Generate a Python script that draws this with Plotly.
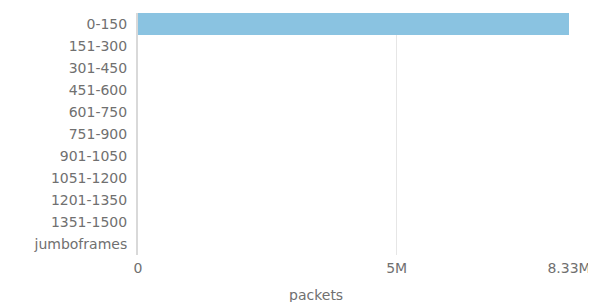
import plotly.graph_objects as go

categories = ["0-150", "151-300", "301-450", "451-600", "601-750", "751-900",
              "901-1050", "1051-1200", "1201-1350", "1351-1500", "jumboframes"]
packets = [8330000, 0, 0, 0, 0, 0, 0, 0, 0, 0, 0]
x_tick_vals = [0, 5000000, 8330000]
x_tick_text = ["0", "5M", "8.33M"]

FONT = "DejaVu Sans"
COL = "#707070"

fig = go.Figure(go.Bar(
    y=categories, x=packets, orientation="h",
    marker=dict(color="#8ac3e1", line=dict(width=0)),
))
fig.update_layout(
    width=588, height=294,
    margin=dict(l=130, r=27, t=5, b=47),
    paper_bgcolor="white", plot_bgcolor="white",
    bargap=0.0,
    showlegend=False,
    font=dict(family=FONT, size=14, color=COL),
)
fig.update_xaxes(
    range=[0, 8330000], tickvals=x_tick_vals, ticktext=x_tick_text,
    showgrid=True, gridcolor="#e6e6e6", gridwidth=1, zeroline=False,
    showline=False, ticks="", ticklabelstandoff=3,
    tickfont=dict(family=FONT, size=14, color=COL),
)
fig.update_yaxes(
    autorange="reversed", showline=True, linecolor="#d9d9d9", linewidth=2,
    showgrid=False, ticks="", ticklabelstandoff=6,
    tickfont=dict(family=FONT, size=14, color=COL),
)
fig.add_annotation(text="packets", xref="paper", yref="paper", x=0.413, y=0,
                   yshift=-40, showarrow=False, xanchor="center", yanchor="middle",
                   font=dict(family=FONT, size=14, color=COL))
fig.write_html("out.html")
